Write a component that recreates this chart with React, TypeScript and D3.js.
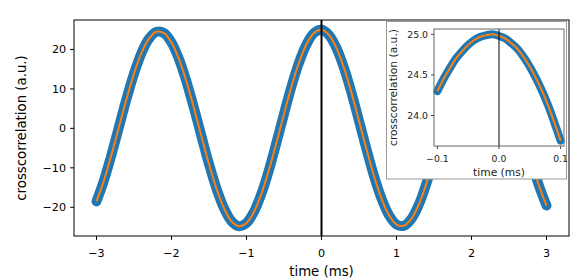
import React from "react";
import * as d3 from "d3";

const mainTime = [
  -3.0, -2.9, -2.8, -2.7, -2.6, -2.5, -2.4, -2.3, -2.2, -2.1,
  -2.0, -1.9, -1.8, -1.7, -1.6, -1.5, -1.4, -1.3, -1.2, -1.1,
  -1.0, -0.9, -0.8, -0.7, -0.6, -0.5, -0.4, -0.3, -0.2, -0.1,
  0.0, 0.1, 0.2, 0.3, 0.4, 0.5, 0.6, 0.7, 0.8, 0.9,
  1.0, 1.1, 1.2, 1.3, 1.4, 1.5, 1.6, 1.7, 1.8, 1.9,
  2.0, 2.1, 2.2, 2.3, 2.4, 2.5, 2.6, 2.7, 2.8, 2.9, 3.0,
];
const mainValues = [
  -18.5, -13.14, -6.64, 0.41, 7.45, 13.87, 19.12, 22.76, 24.49, 24.15,
  21.77, 17.55, 11.84, 5.12, -2.03, -9.03, -15.27, -20.23, -23.54, -24.79,
  -23.98, -21.14, -16.51, -10.5, -3.56, 3.67, 10.63, 16.66, 21.31, 24.17,
  24.98, 23.66, 20.35, 15.32, 9.0, 1.94, -5.27, -12.06, -17.77, -22.0,
  -24.37, -24.68, -22.9, -19.2, -13.89, -7.4, -0.31, 6.8, 13.33, 18.72,
  22.53, 24.43, 24.26, 22.06, 17.99, 12.41, 5.79, -1.3, -8.28, -14.54, -19.55,
];
const insetTime = [
  -0.1, -0.09, -0.08, -0.07, -0.06, -0.05, -0.04, -0.03, -0.02, -0.01,
  0.0, 0.01, 0.02, 0.03, 0.04, 0.05, 0.06, 0.07, 0.08, 0.09, 0.1,
];
const insetValues = [
  24.3, 24.45, 24.58, 24.7, 24.79, 24.87, 24.93, 24.97, 24.99, 25.0,
  24.98, 24.95, 24.89, 24.82, 24.72, 24.6, 24.46, 24.3, 24.12, 23.91, 23.69,
];
const mainXTicks = [-3, -2, -1, 0, 1, 2, 3];
const mainYTicks = [-20, -10, 0, 10, 20];
const insetXTicks = [-0.1, 0.0, 0.1];
const insetYTicks = [24.0, 24.5, 25.0];

const BLUE = "#1f77b4";
const ORANGE = "#ff7f0e";
const FONT = "DejaVu Sans, sans-serif";

const fmt = (v: number, digits: number) => {
  const s = Math.abs(v).toFixed(digits);
  return (v < 0 ? "\u2212" : "") + s;
};

function pad(ext: [number, number], frac: number): [number, number] {
  const r = ext[1] - ext[0];
  return [ext[0] - r * frac, ext[1] + r * frac];
}

export default function App() {
  const W = 588, H = 279;
  // main axes
  const L = 74, R = 569, T = 20, B = 236;
  const x = d3.scaleLinear().domain(pad(d3.extent(mainTime) as [number, number], 0.05)).range([L, R]);
  const y = d3.scaleLinear().domain(pad(d3.extent(mainValues) as [number, number], 0.05)).range([B, T]);
  const mainData = mainTime.map((t, i) => [t, mainValues[i]] as [number, number]);
  const line = d3.line<[number, number]>().x(d => x(d[0])).y(d => y(d[1])).curve(d3.curveCatmullRom.alpha(0.5));
  const mainPath = line(mainData) || "";

  // inset axes
  const iL = 434, iR = 564, iT = 29, iB = 146;
  const ix = d3.scaleLinear().domain(pad(d3.extent(insetTime) as [number, number], 0.0275)).range([iL, iR]);
  const iy = d3.scaleLinear().domain(pad(d3.extent(insetValues) as [number, number], 0.05)).range([iB, iT]);
  const insetData = insetTime.map((t, i) => [t, insetValues[i]] as [number, number]);
  const iline = d3.line<[number, number]>().x(d => ix(d[0])).y(d => iy(d[1])).curve(d3.curveCatmullRom.alpha(0.5));
  const insetPath = iline(insetData) || "";

  const tickLen = 3.9;
  const fs = 11.1;
  const lfs = 13.3;
  const ifs = 9.3;
  const ilfs = 10.7;

  return (
    <svg width={W} height={H} style={{ position: "absolute", left: 0, top: 0, background: "#fff" }} fontFamily={FONT}>
      <rect x={0} y={0} width={W} height={H} fill="#fff" />
      <defs>
        <clipPath id="mainClip">
          <rect x={L} y={T} width={R - L} height={B - T} />
        </clipPath>
      </defs>
      {/* main series */}
      <g clipPath="url(#mainClip)">
        <path d={mainPath} fill="none" stroke={BLUE} strokeWidth={10} strokeLinecap="round" strokeLinejoin="round" />
        <path d={mainPath} fill="none" stroke={ORANGE} strokeWidth={2} strokeLinecap="butt" strokeLinejoin="round" />
        <line x1={x(0)} x2={x(0)} y1={T} y2={B} stroke="#000" strokeWidth={2} />
      </g>
      {/* main spines */}
      <rect x={L} y={T} width={R - L} height={B - T} fill="none" stroke="#000" strokeWidth={1} />
      {/* x ticks */}
      {mainXTicks.map(t => (
        <g key={"xt" + t}>
          <line x1={x(t)} x2={x(t)} y1={B} y2={B + tickLen} stroke="#000" strokeWidth={1} />
          <text x={x(t)} y={B + 21} fontSize={fs} textAnchor="middle" fill="#000">{fmt(t, 0)}</text>
        </g>
      ))}
      {mainYTicks.map(t => (
        <g key={"yt" + t}>
          <line x1={L - tickLen} x2={L} y1={y(t)} y2={y(t)} stroke="#000" strokeWidth={1} />
          <text x={L - 8} y={y(t) + 4} fontSize={fs} textAnchor="end" fill="#000">{fmt(t, 0)}</text>
        </g>
      ))}
      <text x={(L + R) / 2} y={276} fontSize={lfs} textAnchor="middle" fill="#000">time (ms)</text>
      <text transform={`translate(21,${(T + B) / 2}) rotate(-90)`} fontSize={lfs} textAnchor="middle" dominantBaseline="central" fill="#000">crosscorrelation (a.u.)</text>

      {/* inset box */}
      <rect x={386.5} y={21.5} width={180} height={157.5} fill="#fff" stroke="#999" strokeWidth={1} />
      <defs>
        <clipPath id="insetClip">
          <rect x={iL - 5} y={iT - 5} width={iR - iL + 10} height={iB - iT + 10} />
        </clipPath>
      </defs>
      <g clipPath="url(#insetClip)">
        <path d={insetPath} fill="none" stroke={BLUE} strokeWidth={8} strokeLinecap="round" strokeLinejoin="round" />
        <path d={insetPath} fill="none" stroke={ORANGE} strokeWidth={2} strokeLinejoin="round" />
      </g>
      <line x1={ix(0)} x2={ix(0)} y1={iT} y2={iB} stroke="#000" strokeWidth={1} />
      <rect x={iL} y={iT} width={iR - iL} height={iB - iT} fill="none" stroke="#666" strokeWidth={1} />
      {insetXTicks.map(t => (
        <g key={"ixt" + t}>
          <line x1={ix(t)} x2={ix(t)} y1={iB} y2={iB + 3} stroke="#444" strokeWidth={1} />
          <text x={ix(t)} y={iB + 16} fontSize={ifs} textAnchor="middle" fill="#222">{fmt(t, 1)}</text>
        </g>
      ))}
      {insetYTicks.map(t => (
        <g key={"iyt" + t}>
          <line x1={iL - 3} x2={iL} y1={iy(t)} y2={iy(t)} stroke="#444" strokeWidth={1} />
          <text x={iL - 6} y={iy(t) + 3.4} fontSize={ifs} textAnchor="end" fill="#222">{fmt(t, 1)}</text>
        </g>
      ))}
      <text x={(iL + iR) / 2} y={176} fontSize={ilfs} textAnchor="middle" fill="#222">time (ms)</text>
      <text transform={`translate(393.5,${(iT + iB) / 2}) rotate(-90)`} fontSize={ilfs} textAnchor="middle" dominantBaseline="central" fill="#222">crosscorrelation (a.u.)</text>
    </svg>
  );
}
